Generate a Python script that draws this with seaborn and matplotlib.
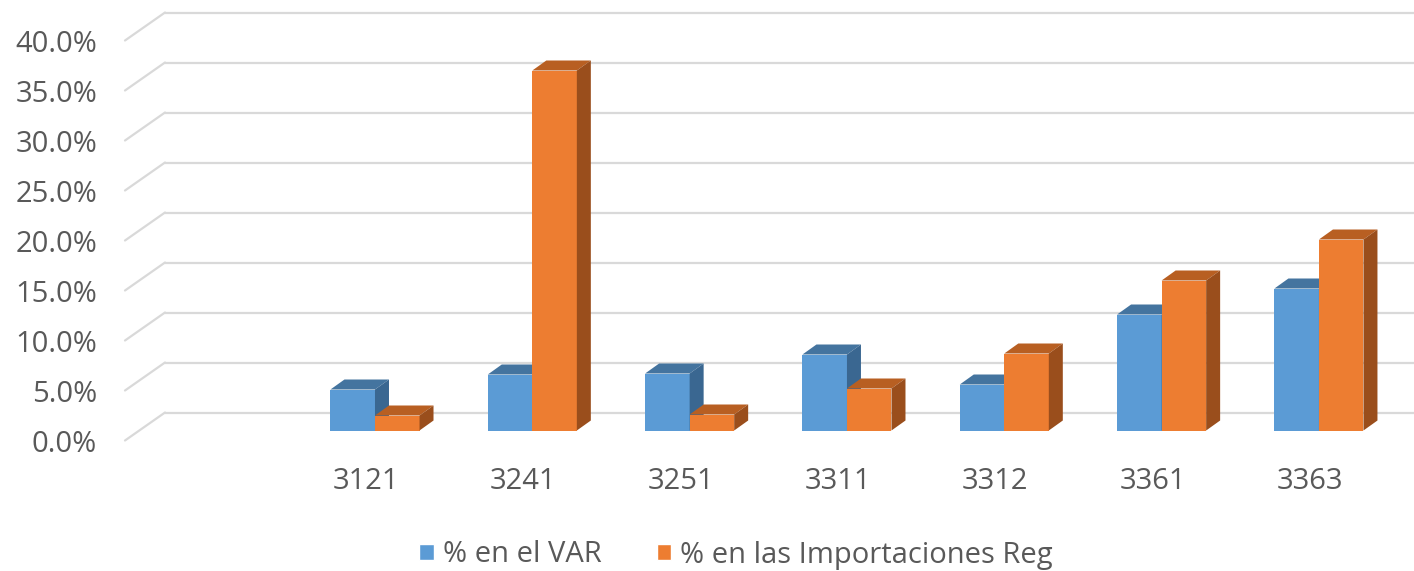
import numpy as np
import pandas as pd
import matplotlib
matplotlib.use("Agg")
import matplotlib.pyplot as plt
import seaborn as sns
from matplotlib.transforms import ScaledTranslation
from matplotlib.patches import Polygon, Patch
from matplotlib.lines import Line2D

# ---------------- data ----------------
categories = ["", "3121", "3241", "3251", "3311", "3312", "3361", "3363"]
codes = ["3121", "3241", "3251", "3311", "3312", "3361", "3363"]
var_share = [4.1, 5.6, 5.7, 7.6, 4.6, 11.6, 14.2]
imp_share = [1.5, 36.0, 1.6, 4.2, 7.7, 15.0, 19.1]
series = ["% en el VAR", "% en las Importaciones Reg"]
yticks = [0, 5, 10, 15, 20, 25, 30, 35, 40]
ytick_labels = ["0.0%", "5.0%", "10.0%", "15.0%", "20.0%", "25.0%", "30.0%", "35.0%", "40.0%"]

# ---------------- style ----------------
sns.set_style("white")
plt.rcParams["font.family"] = ["Open Sans", "DejaVu Sans"]

BLUE, ORANGE = "#5B9BD5", "#ED7D31"
BLUE_TOP, BLUE_SIDE = "#44749F", "#3A6791"
ORANGE_TOP, ORANGE_SIDE = "#B85F22", "#9A4E1C"
GRID = "#D9D9D9"
TXT = "#595959"

W, H = 1414, 571
fig = plt.figure(figsize=(W / 100, H / 100), dpi=100)
ax = fig.add_axes([139 / W, (H - 430.5) / H, 1258.6 / W, 400 / H])

df = pd.DataFrame({
    "code": codes * 2,
    "value": var_share + imp_share,
    "series": [series[0]] * len(codes) + [series[1]] * len(codes),
})
sns.barplot(data=df, x="code", y="value", hue="series", order=categories,
            hue_order=series, palette=[BLUE, ORANGE], width=0.566, gap=0,
            saturation=1, linewidth=0, errorbar=None, legend=False, ax=ax)
bars = [p for p in ax.patches if np.isfinite(p.get_height()) and p.get_height() > 0]

ax.set_xlim(-0.5, 7.5)
ax.set_ylim(0, 40)
for s in ax.spines.values():
    s.set_visible(False)
ax.set_xlabel("")
ax.set_ylabel("")
ax.grid(False)


def off(dx, dy):
    return ScaledTranslation(dx / 100, dy / 100, fig.dpi_scale_trans)


inv = ax.transData.inverted()


def shifted(x, y, dx, dy):
    p = ax.transData.transform((x, y))
    return inv.transform((p[0] + dx, p[1] + dy))


BACK = (26, 18)
FRONT = (-14, -10)

# back wall gridlines + left diagonals
for v in yticks:
    ax.plot([-0.5, 7.6], [v, v], transform=ax.transData + off(*BACK),
            color=GRID, lw=1.6, clip_on=False, zorder=0.5)
    a = shifted(-0.5, v, *FRONT)
    b = shifted(-0.5, v, *BACK)
    ax.add_line(Line2D([a[0], b[0]], [a[1], b[1]], color=GRID, lw=1.6,
                       clip_on=False, zorder=0.5))

# 3D faces for each bar
DX, DY = 14, 10
z = 2.0
for bar in sorted(bars, key=lambda p: p.get_x()):
    x0, w, h = bar.get_x(), bar.get_width(), bar.get_height()
    x1 = x0 + w
    fc = bar.get_facecolor()
    is_blue = abs(fc[0] - matplotlib.colors.to_rgb(BLUE)[0]) < 0.05
    top_c, side_c = (BLUE_TOP, BLUE_SIDE) if is_blue else (ORANGE_TOP, ORANGE_SIDE)
    bar.set_zorder(z)
    top = Polygon([(x0, h), (x1, h), tuple(shifted(x1, h, DX, DY)), tuple(shifted(x0, h, DX, DY))],
                  closed=True, facecolor=top_c, edgecolor="none", zorder=z + 0.001, clip_on=False)
    side = Polygon([(x1, 0), (x1, h), tuple(shifted(x1, h, DX, DY)), tuple(shifted(x1, 0, DX, DY))],
                   closed=True, facecolor=side_c, edgecolor="none", zorder=z + 0.002, clip_on=False)
    ax.add_patch(top)
    ax.add_patch(side)
    z += 0.01

# ticks
ax.set_yticks(yticks)
ax.set_yticklabels(ytick_labels)
ax.set_xticks(range(len(categories)))
ax.set_xticklabels(categories)
ax.tick_params(axis="both", length=0, labelsize=21, labelcolor=TXT)
ax.tick_params(axis="y", pad=20)
ax.tick_params(axis="x", pad=19)
for lab in ax.get_yticklabels():
    lab.set_transform(lab.get_transform() + off(*FRONT))
for lab in ax.get_xticklabels():
    lab.set_transform(lab.get_transform() + off(-9, -10))

# legend
handles = [Patch(facecolor=BLUE, label=series[0]), Patch(facecolor=ORANGE, label=series[1])]
fig.legend(handles=handles, loc="center", bbox_to_anchor=(736 / W, 16 / H), ncol=2,
           frameon=False, fontsize=21, handlelength=0.5, handleheight=0.5,
           handletextpad=0.3, columnspacing=1.9, labelcolor=TXT)

fig.savefig("out.png", dpi=100, facecolor="white")
